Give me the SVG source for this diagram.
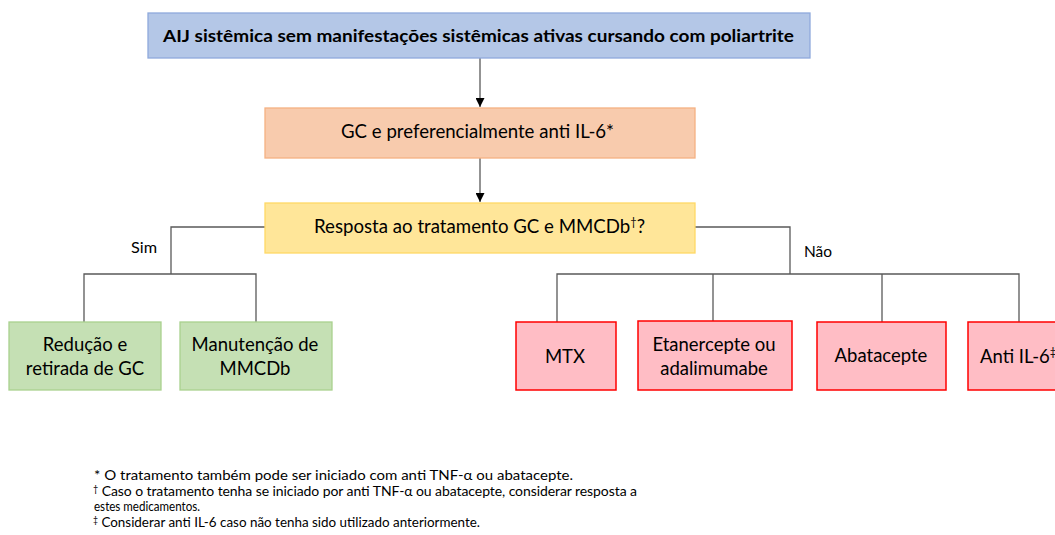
<svg xmlns="http://www.w3.org/2000/svg" width="1055" height="535" viewBox="0 0 1055 535">
<defs>
<style>
.t{font-family:Lato,"Liberation Sans",sans-serif;fill:#000;}
.lbl{font-size:18.5px;}
.bold{font-weight:bold;font-size:17px;}
.fn{font-size:14px;}
.edge{font-size:16px;}
.sup{font-size:11px;}
.con{fill:none;stroke:#595959;stroke-width:1.3;}
.blue{fill:#b4c7e7;stroke:#8faadc;stroke-width:1.3;}
.orange{fill:#f8cbad;stroke:#f4b183;stroke-width:1.3;}
.yellow{fill:#ffe699;stroke:#ffd966;stroke-width:1.3;}
.green{fill:#c5e0b4;stroke:#a9d18e;stroke-width:1.3;}
.red{fill:#ffbdc5;stroke:#ff0000;stroke-width:1.5;}
</style>
<marker id="arr" markerUnits="userSpaceOnUse" markerWidth="9" markerHeight="9" refX="9" refY="4.5" orient="auto">
<path d="M0,0 L9,4.5 L0,9 z" fill="#000"/>
</marker>
</defs>
<rect width="1055" height="535" fill="#fff"/>

<g id="connectors">
<line class="con" x1="480" y1="58" x2="480" y2="107" marker-end="url(#arr)"/>
<line class="con" x1="480" y1="158" x2="480" y2="202" marker-end="url(#arr)"/>
<polyline class="con" points="265,227 171,227 171,274"/>
<polyline class="con" points="84,322 84,274 256,274 256,322"/>
<polyline class="con" points="694,227 790,227 790,274"/>
<polyline class="con" points="557,322 557,274 1019,274 1019,322"/>
<line class="con" x1="713" y1="274" x2="713" y2="321"/>
<line class="con" x1="882" y1="274" x2="882" y2="322"/>
<text class="t edge" x="131" y="253" textLength="26" lengthAdjust="spacingAndGlyphs">Sim</text>
<text class="t edge" x="804" y="257" textLength="28" lengthAdjust="spacingAndGlyphs">Não</text>
</g>

<g id="n-top">
<rect class="blue" x="148" y="13" width="662" height="45"/>
<text class="t bold" x="163" y="42" textLength="631" lengthAdjust="spacingAndGlyphs">AIJ sistêmica sem manifestações sistêmicas ativas cursando com poliartrite</text>
</g>

<g id="n-gc">
<rect class="orange" x="265" y="108" width="430" height="50"/>
<text class="t lbl" x="341" y="138" textLength="273" lengthAdjust="spacingAndGlyphs">GC e preferencialmente anti IL-6*</text>
</g>

<g id="n-resp">
<rect class="yellow" x="265" y="203" width="430" height="50"/>
<text class="t lbl" x="314" y="233" textLength="331" lengthAdjust="spacingAndGlyphs">Resposta ao tratamento GC e MMCDb<tspan class="sup" dy="-7">†</tspan><tspan dy="7">?</tspan></text>
</g>

<g id="n-reducao">
<rect class="green" x="9" y="322" width="152" height="68"/>
<text class="t lbl" x="85" y="351" text-anchor="middle">Redução e</text>
<text class="t lbl" x="85" y="375" text-anchor="middle">retirada de GC</text>
</g>

<g id="n-manut">
<rect class="green" x="180" y="322" width="152" height="68"/>
<text class="t lbl" x="255" y="351" text-anchor="middle">Manutenção de</text>
<text class="t lbl" x="255" y="375" text-anchor="middle">MMCDb</text>
</g>

<g id="n-mtx">
<rect class="red" x="516" y="322" width="100" height="68"/>
<text class="t lbl" x="565" y="363" text-anchor="middle">MTX</text>
</g>

<g id="n-etan">
<rect class="red" x="638" y="321" width="154" height="69"/>
<text class="t lbl" x="714" y="351" text-anchor="middle">Etanercepte ou</text>
<text class="t lbl" x="714" y="375" text-anchor="middle">adalimumabe</text>
</g>

<g id="n-abat">
<rect class="red" x="817" y="322" width="129" height="68"/>
<text class="t lbl" x="881" y="362" text-anchor="middle">Abatacepte</text>
</g>

<g id="n-anti">
<rect class="red" x="968" y="322" width="100" height="68"/>
<text class="t lbl" x="980" y="363">Anti IL-6<tspan class="sup" dy="-7">‡</tspan></text>
</g>

<g id="footnotes">
<text class="t fn" x="94" y="480" textLength="479" lengthAdjust="spacingAndGlyphs">* O tratamento também pode ser iniciado com anti TNF-α ou abatacepte.</text>
<text class="t fn" x="93" y="495.5" textLength="544" lengthAdjust="spacing"><tspan style="font-size:9px" dy="-4">†</tspan><tspan dy="4"> Caso o tratamento tenha se iniciado por anti TNF-α ou abatacepte, considerar resposta a</tspan></text>
<text class="t fn" x="94" y="511" textLength="106" lengthAdjust="spacingAndGlyphs">estes medicamentos.</text>
<text class="t fn" x="93" y="527" textLength="387" lengthAdjust="spacingAndGlyphs"><tspan style="font-size:9px" dy="-4">‡</tspan><tspan dy="4"> Considerar anti IL-6 caso não tenha sido utilizado anteriormente.</tspan></text>
</g>
</svg>
